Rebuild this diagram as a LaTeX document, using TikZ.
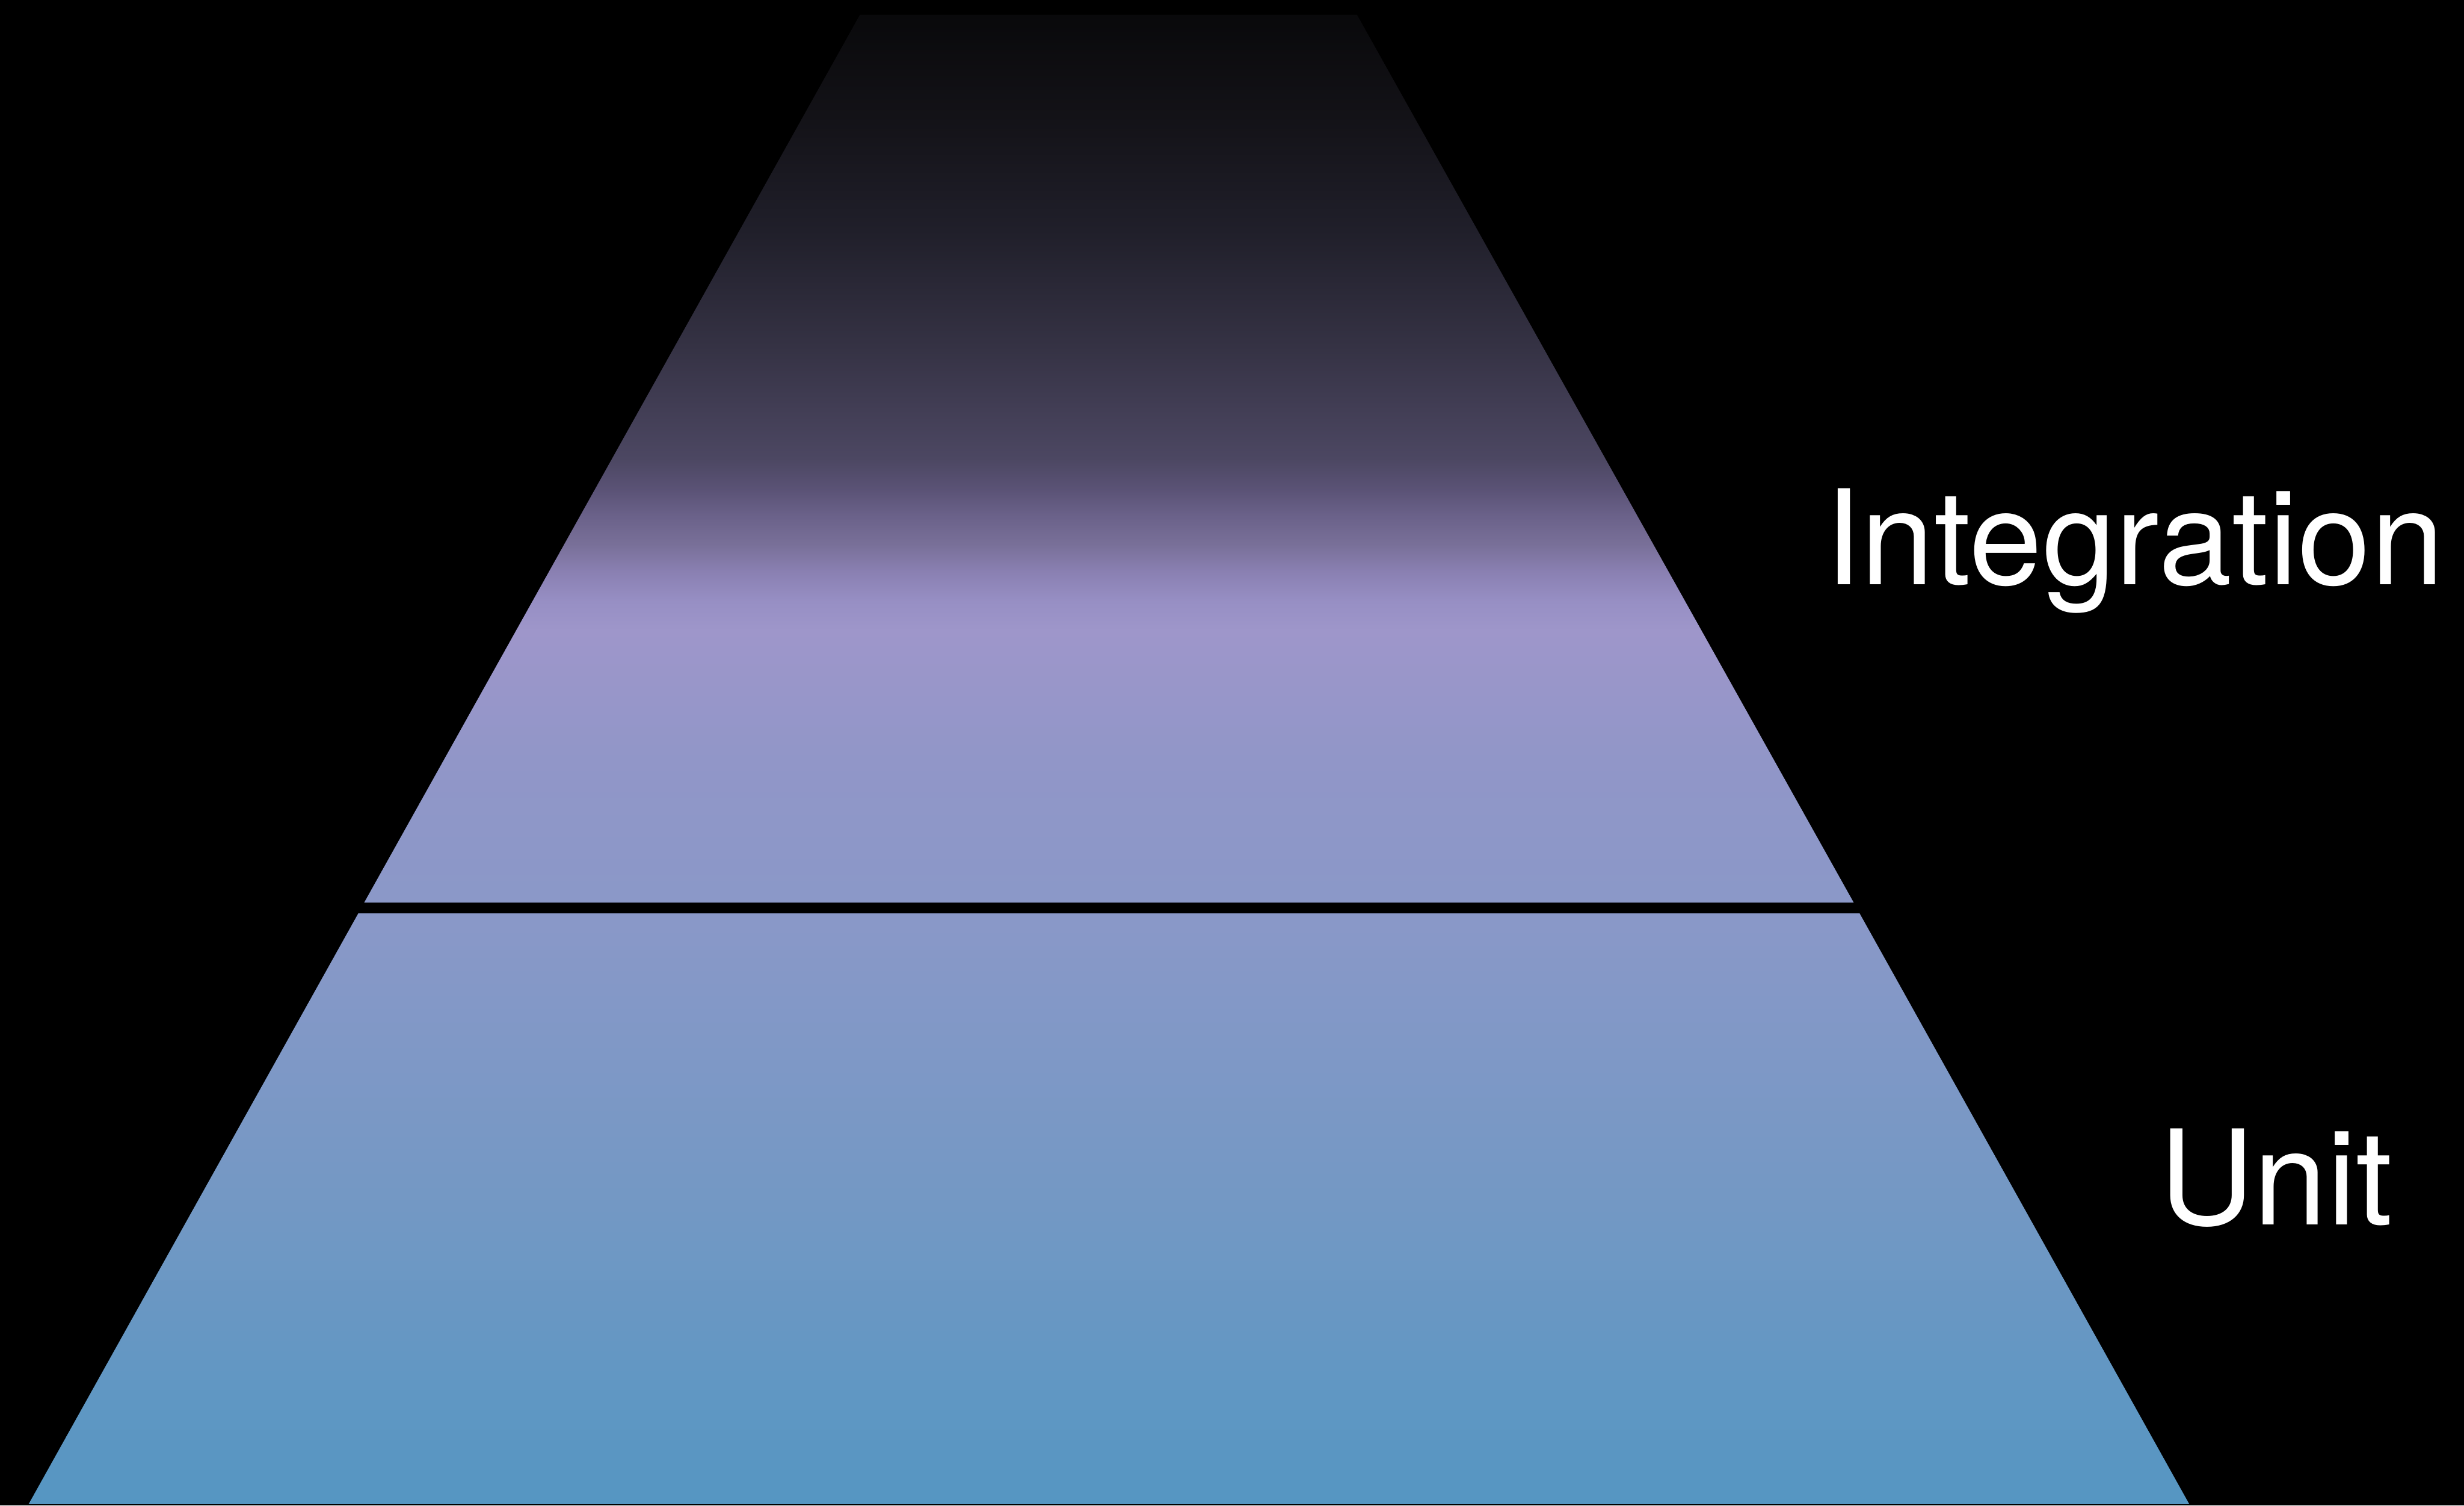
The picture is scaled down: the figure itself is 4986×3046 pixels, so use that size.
\documentclass[tikz,border=0pt]{standalone}
\usepackage{fontspec}
\setmainfont{TeX Gyre Heros}
\definecolor{g01}{HTML}{5596C2}
\definecolor{g02}{HTML}{7398C4}
\definecolor{g03}{HTML}{8A98C8}
\definecolor{g04}{HTML}{9196C8}
\definecolor{g05}{HTML}{9E96CA}
\definecolor{g06}{HTML}{978FC4}
\definecolor{g07}{HTML}{8A80B2}
\definecolor{g08}{HTML}{797099}
\definecolor{g09}{HTML}{6A6189}
\definecolor{g10}{HTML}{5A5275}
\definecolor{g11}{HTML}{4C4762}
\definecolor{g12}{HTML}{353244}
\definecolor{g13}{HTML}{201F2A}
\definecolor{g14}{HTML}{131217}
\definecolor{g15}{HTML}{09090B}
\pgfdeclareverticalshading{pyrshade}{100bp}{color(0bp)=(g01); color(25bp)=(g01); color(35bp)=(g02); color(44.83bp)=(g03); color(50bp)=(g04); color(54.3bp)=(g05); color(55.3bp)=(g06); color(56.3bp)=(g07); color(57.2bp)=(g08); color(58.2bp)=(g09); color(59.1bp)=(g10); color(60.1bp)=(g11); color(63.88bp)=(g12); color(67.75bp)=(g13); color(71.63bp)=(g14); color(75bp)=(g15); color(100bp)=(g15)}
\begin{document}
\begin{tikzpicture}[x=0.1pt,y=-0.1pt,
  lbl/.style={text=white,inner sep=0pt,anchor=base west,font=\fontsize{26.65pt}{32pt}\selectfont}]
\fill[black] (0,0) rectangle (4986,3046);
\useasboundingbox (0,0) rectangle (4986,3046);
% tiers: integration (upper) and unit (lower)
\coordinate (itl) at (1740,30);
\coordinate (itr) at (2746,30);
\coordinate (ibr) at (3751,1826);
\coordinate (ibl) at (737,1826);
\coordinate (utl) at (725,1848);
\coordinate (utr) at (3763,1848);
\coordinate (ubr) at (4430,3043);
\coordinate (ubl) at (58,3043);
\begin{scope}
\clip (itl) -- (itr) -- (ibr) -- (ibl) -- cycle
      (utl) -- (utr) -- (ubr) -- (ubl) -- cycle;
\shade[shading=pyrshade] (58,30) rectangle (4430,3043);
\end{scope}
\node[lbl] (integration) at (3690,1182) {Integration};
\node[lbl] (unit) at (4367,2478) {Unit};
\end{tikzpicture}
\end{document}
